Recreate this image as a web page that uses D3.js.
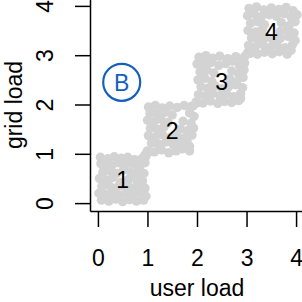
<!DOCTYPE html>
<html lang="en">
  <head>
    <meta charset="UTF-8" />
    <title>load clusters</title>
    <script src="https://cdn.jsdelivr.net/npm/d3@7/dist/d3.min.js"></script>
    <style>
      html,
      body {
        margin: 0;
        padding: 0;
        background: #fff;
      }
      svg text {
        font-family: 'Liberation Sans', Arial, sans-serif;
      }
    </style>
  </head>
  <body>
    <svg width="302" height="302"></svg>
    <script>
      // points, [user load, grid load]
      const cluster1 = [
        [0.05, 0.93], [0.2, 0.9], [0.33, 0.94], [0.47, 0.91], [0.6, 0.93], [0.74, 0.88], [0.88, 0.9], [0.97, 0.95], [1.04, 1.05],
        [0.06, 0.8], [0.14, 0.8], [0.28, 0.76], [0.42, 0.82], [0.56, 0.77], [0.7, 0.8], [0.84, 0.74], [0.95, 0.82],
        [0.1, 0.62], [0.24, 0.66], [0.38, 0.6], [0.52, 0.68], [0.66, 0.62], [0.8, 0.66], [0.93, 0.6],
        [0.03, 0.5], [0.17, 0.47], [0.3, 0.52], [0.62, 0.48], [0.76, 0.5], [0.9, 0.45],
        [0.08, 0.34], [0.22, 0.36], [0.36, 0.31], [0.5, 0.35], [0.64, 0.32], [0.79, 0.37], [0.95, 0.3],
        [0.02, 0.2], [0.14, 0.18], [0.28, 0.22], [0.42, 0.17], [0.57, 0.2], [0.7, 0.15], [0.85, 0.21], [0.97, 0.14],
        [0.07, 0.06], [0.22, 0.04], [0.36, 0.08], [0.5, 0.03], [0.64, 0.07], [0.78, 0.04], [0.92, 0.06],
        [0.12, 0.72], [0.45, 0.42], [0.72, 0.26], [0.3, 0.12], [0.86, 0.56]
      ];
      const cluster2 = [
        [1.02, 1.95], [1.16, 1.98], [1.3, 1.93], [1.45, 1.97], [1.6, 1.94], [1.74, 1.98], [1.88, 1.96], [2.0, 2.03],
        [1.05, 1.82], [1.2, 1.8], [1.35, 1.84], [1.5, 1.79], [1.85, 1.83], [1.94, 1.76],
        [1.0, 1.68], [1.13, 1.65], [1.27, 1.7], [1.42, 1.64], [1.72, 1.66], [1.88, 1.62],
        [1.06, 1.52], [1.2, 1.5], [1.34, 1.55], [1.66, 1.5], [1.8, 1.47], [1.93, 1.52],
        [1.02, 1.37], [1.16, 1.34], [1.3, 1.39], [1.46, 1.33], [1.6, 1.36], [1.75, 1.32], [1.9, 1.38],
        [1.08, 1.22], [1.22, 1.2], [1.37, 1.24], [1.52, 1.19], [1.66, 1.22], [1.8, 1.25],
        [1.0, 1.06], [1.14, 1.04], [1.28, 1.08], [1.43, 1.02], [1.58, 1.06], [1.7, 1.1], [1.85, 1.06], [0.95, 0.98],
        [1.1, 1.88], [1.55, 1.28], [1.25, 1.12], [1.85, 1.15]
      ];
      const cluster3 = [
        [2.04, 2.96], [2.18, 2.99], [2.32, 2.94], [2.46, 2.98], [2.62, 2.93], [2.78, 2.97], [2.9, 2.92], [3.02, 3.05],
        [2.0, 2.82], [2.14, 2.8], [2.28, 2.85], [2.44, 2.79], [2.58, 2.83], [2.86, 2.78], [2.96, 2.84],
        [2.06, 2.66], [2.2, 2.7], [2.34, 2.64], [2.7, 2.68], [2.84, 2.62], [2.95, 2.7],
        [2.02, 2.5], [2.16, 2.53], [2.3, 2.47], [2.66, 2.52], [2.8, 2.46], [2.93, 2.55],
        [2.08, 2.36], [2.22, 2.33], [2.36, 2.38], [2.5, 2.32], [2.64, 2.36], [2.78, 2.4], [2.92, 2.34],
        [2.03, 2.2], [2.17, 2.18], [2.32, 2.23], [2.46, 2.17], [2.6, 2.21], [2.74, 2.16], [2.88, 2.22],
        [1.98, 2.05], [2.12, 2.03], [2.27, 2.07], [2.42, 2.02], [2.56, 2.06], [2.7, 2.04], [2.84, 2.08], [1.92, 1.97],
        [2.1, 2.9], [2.72, 2.88], [2.55, 2.27], [2.25, 2.12], [2.88, 2.12]
      ];
      const cluster4 = [
        [3.05, 3.95], [3.2, 3.98], [3.35, 3.92], [3.5, 3.96], [3.66, 3.93], [3.8, 3.97], [3.94, 3.9],
        [3.02, 3.8], [3.16, 3.83], [3.3, 3.78], [3.46, 3.82], [3.6, 3.79], [3.76, 3.84], [3.9, 3.77], [4.02, 3.82],
        [3.08, 3.65], [3.22, 3.68], [3.36, 3.62], [3.7, 3.66], [3.86, 3.6], [3.98, 3.68],
        [3.03, 3.5], [3.18, 3.47], [3.32, 3.53], [3.68, 3.48], [3.82, 3.52], [3.96, 3.45],
        [3.1, 3.35], [3.24, 3.32], [3.4, 3.36], [3.54, 3.3], [3.68, 3.34], [3.84, 3.38], [3.98, 3.3],
        [3.04, 3.2], [3.18, 3.17], [3.33, 3.22], [3.48, 3.16], [3.62, 3.2], [3.78, 3.15], [3.93, 3.22],
        [3.08, 3.04], [3.22, 3.02], [3.36, 3.06], [3.52, 3.03], [3.66, 3.07], [3.82, 3.02], [2.97, 2.98],
        [3.12, 3.9], [3.55, 3.88], [3.9, 3.1], [3.26, 3.42]
      ];

      const clusterNames = ['1', '2', '3', '4'];
      const clusterCentres = [0.5, 1.5, 2.5, 3.5];
      const tickValues = [0, 1, 2, 3, 4];
      const panelLetter = 'B';
      const panelLetterAt = [0.48, 2.45];

      const svg = d3.select('svg');

      const x = d3.scaleLinear().domain([-0.16, 4.16]).range([90, 304]);
      const y = d3.scaleLinear().domain([-0.16, 4.16]).range([211, -2]);

      const points = [].concat(cluster1, cluster2, cluster3, cluster4);

      svg
        .append('g')
        .selectAll('circle')
        .data(points)
        .enter()
        .append('circle')
        .attr('cx', d => x(d[0]))
        .attr('cy', d => y(d[1]))
        .attr('r', 4.7)
        .style('fill', '#d3d3d3');

      // box bottom + ticks
      const xAxis = d3
        .axisBottom(x)
        .tickValues(tickValues)
        .tickFormat(d3.format('d'))
        .tickSize(16)
        .tickSizeOuter(0);
      const xg = svg.append('g').attr('transform', 'translate(0,211)').call(xAxis);
      xg.selectAll('text').attr('y', 55).attr('dy', 0);

      // box left + ticks
      const yAxis = d3
        .axisLeft(y)
        .tickValues(tickValues)
        .tickFormat(d3.format('d'))
        .tickSize(15)
        .tickSizeOuter(0);
      const yg = svg.append('g').attr('transform', 'translate(90,0)').call(yAxis);
      yg.selectAll('text')
        .attr('x', 0)
        .attr('dy', 0)
        .attr('text-anchor', 'middle')
        .attr('transform', 'translate(-37,0) rotate(-90)');

      svg.selectAll('.domain, .tick line').attr('stroke', '#000').attr('stroke-width', 1.5);
      svg.selectAll('.tick text').attr('fill', '#000').style('font-size', '23px');

      svg
        .append('text')
        .attr('x', 197)
        .attr('y', 296)
        .attr('text-anchor', 'middle')
        .style('font-size', '23px')
        .text('user load');

      svg
        .append('text')
        .attr('transform', 'translate(21.5,105) rotate(-90)')
        .attr('text-anchor', 'middle')
        .style('font-size', '23px')
        .text('grid load');

      svg
        .append('g')
        .selectAll('text')
        .data(clusterNames)
        .enter()
        .append('text')
        .attr('x', (d, i) => x(clusterCentres[i]))
        .attr('y', (d, i) => y(clusterCentres[i]))
        .attr('dy', '0.42em')
        .attr('text-anchor', 'middle')
        .style('font-size', '23px')
        .text(d => d);

      const bx = x(panelLetterAt[0]);
      const by = y(panelLetterAt[1]);
      svg
        .append('circle')
        .attr('cx', bx)
        .attr('cy', by)
        .attr('r', 18.5)
        .attr('fill', 'none')
        .attr('stroke', '#1560bd')
        .attr('stroke-width', 2.2);
      svg
        .append('text')
        .attr('x', bx)
        .attr('y', by)
        .attr('dy', '0.36em')
        .attr('text-anchor', 'middle')
        .style('font-size', '23px')
        .style('fill', '#1560bd')
        .text(panelLetter);
    </script>
  </body>
</html>
